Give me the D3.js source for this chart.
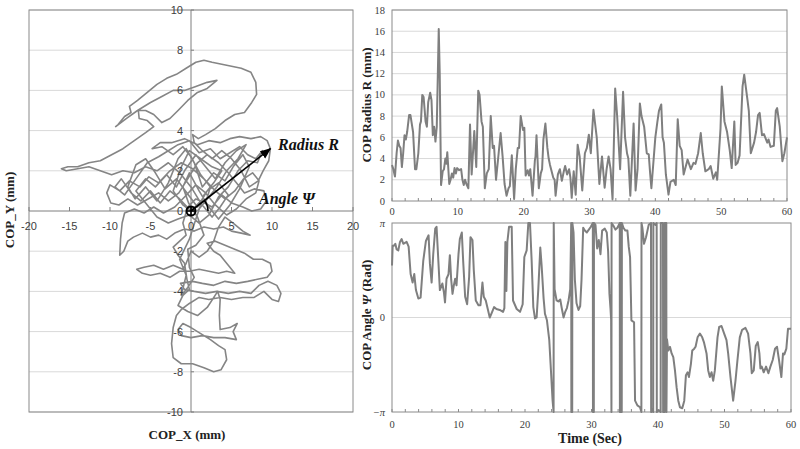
<!DOCTYPE html>
<meta charset="utf-8">
<style>
body { margin: 0; background: #fff; }
svg { display: block; }
.tick-sans { font-family: "Liberation Sans", Arial, sans-serif; font-size: 11px; fill: #404040; }
.tick-serif { font-family: "Liberation Serif", "Times New Roman", serif; font-size: 10.5px; fill: #404040; }
.title { font-family: "Liberation Serif", "Times New Roman", serif; font-weight: bold; font-size: 13px; fill: #222; }
.note { font-family: "Liberation Serif", "Times New Roman", serif; font-weight: bold; font-style: italic; font-size: 16px; fill: #111; }
</style>
<svg width="800" height="449"></svg>
<script src="https://d3js.org/d3.v7.min.js"></script>
<script>

// stabilogram path, COP_X / COP_Y in mm
var copPath = [
  [0,0],[1.2,0.5],[2.6,0.2],[3.8,0.8],[5.0,0.4],[6.4,0.2],[7.5,0.0],[8.6,0.1],[9.3,0.5],[9.0,1.0],[7.8,1.1],[6.6,0.9],
  [5.8,1.3],[4.6,1.9],[3.4,2.4],[2.0,2.8],[0.8,2.4],[-0.4,1.6],[-1.5,0.9],[-2.8,0.5],[-4.0,0.9],[-5.3,0.6],[-6.6,0.3],
  [-7.8,0.6],[-8.9,0.3],[-9.9,0.4],[-10.4,0.9],[-10.0,1.3],[-8.8,1.0],[-7.6,1.5],[-6.3,1.2],[-5.2,1.7],[-4.0,1.4],
  [-2.6,2.0],[-1.2,2.4],[0.2,2.1],[1.6,1.6],[3.0,1.0],[4.2,0.6],[5.4,1.0],[6.5,1.6],[7.6,1.9],[8.4,1.5],[8.0,0.9],
  [6.8,0.6],[5.6,0.1],[4.4,-0.2],[3.0,0.3],[1.8,0.9],[0.6,1.3],[-0.8,0.7],[-2.0,0.2],[-3.4,-0.1],[-4.6,0.2],[-5.8,-0.1],
  [-7.0,0.1],[-8.2,-0.1],
  [-8.5,-0.6],[-8.7,-1.4],[-8.8,-2.2],[-8.3,-2.0],[-7.8,-1.5],[-7.1,-1.3],[-6.0,-1.1],[-5.0,-1.3],[-4.0,-1.2],[-3.0,-1.4],
  [-2.0,-1.1],[-0.8,-0.9],[0.4,-1.0],[1.6,-0.8],[2.8,-0.9],[4.0,-0.8],[5.0,-1.0],[6.2,-1.1],[7.3,-1.2],[6.4,-1.0],
  [5.2,-0.6],[4.2,-0.3],[3.4,-0.8],[2.8,-1.5],[2.0,-2.0],[1.0,-2.3],[0.0,-2.0],[-0.6,-2.6],[-1.0,-2.9],
  [-2.2,-2.7],[-3.4,-2.9],[-4.6,-2.7],[-5.8,-2.8],[-6.7,-2.9],[-6.0,-3.1],[-5.0,-3.2],[-3.8,-3.1],[-2.6,-3.3],[-1.4,-3.0],
  [-0.2,-3.0],[1.0,-2.9],[2.2,-3.0],[3.4,-3.1],[4.4,-3.0],[5.4,-3.1],[4.6,-2.7],[3.6,-2.2],[2.8,-2.0],[2.0,-1.6],
  [3.0,-1.5],[4.2,-1.7],[5.4,-1.9],[6.6,-2.1],[7.7,-2.4],[8.8,-2.4],[9.8,-2.6],[10.0,-3.0],[9.4,-3.3],[8.2,-3.4],
  [7.0,-3.5],[5.6,-3.6],[4.2,-3.5],[2.8,-3.7],[1.4,-3.6],[0.2,-3.5],[-1.3,-3.6],[-0.8,-3.9],[0.4,-4.0],[1.8,-4.1],
  [3.2,-4.0],[4.6,-4.1],[6.0,-4.0],[7.4,-4.1],[8.4,-3.7],[9.5,-3.5],[10.6,-3.7],[11.1,-4.1],[10.8,-4.5],[10.0,-4.4],
  [9.0,-4.0],[7.8,-4.3],[6.4,-4.3],[5.0,-4.4],[3.6,-4.3],[2.2,-4.4],[1.0,-4.3],
  [-0.2,-4.6],[-1.2,-4.9],[-1.8,-5.2],[-2.2,-5.8],[-2.4,-6.6],[-2.2,-7.3],[-1.2,-7.6],[0.2,-7.6],[1.6,-7.8],[2.8,-8.0],
  [3.7,-7.9],[4.4,-7.4],[4.2,-6.9],[3.4,-6.7],[2.4,-6.4],[1.2,-6.1],[0.0,-5.8],[-1.0,-5.6],[-1.6,-5.9],[-1.2,-6.2],
  [0.0,-6.3],[1.4,-6.2],[2.8,-6.3],[4.2,-6.3],[5.6,-6.4],[5.2,-6.0],[5.7,-5.6],[4.8,-5.8],[3.6,-5.9],[3.5,-5.2],
  [3.6,-4.4],[3.3,-4.0],[2.0,-4.8],[0.8,-5.2],[-0.4,-5.0],[-1.6,-4.7],[-1.0,-4.2],[-0.2,-3.9],[-0.5,-3.4],
  [-0.8,-2.6],[-1.6,-2.2],[-2.2,-1.8],[-1.4,-1.5],[-0.6,-1.2],[-1.0,-0.6],[-0.4,0.2],[0.6,0.6],[1.8,0.4],[2.4,1.2],
  [1.2,1.8],[0.0,2.7],[-1.0,3.2],[-2.2,2.8],[-3.6,3.2],[-4.8,3.1],[-3.8,3.4],[-2.4,3.4],[-0.8,3.6],[0.8,3.3],
  [2.2,3.5],[3.6,3.4],[4.8,3.6],[6.0,3.7],[7.4,3.6],[8.6,3.7],[9.4,3.5],[9.8,3.1],[9.6,2.5],[8.9,2.0],[8.3,1.5],
  [7.2,1.2],[6.2,2.0],[5.0,2.6],[3.8,3.0],[2.6,2.6],[1.4,3.0],[0.4,3.4],[0.2,3.8],
  [0.9,3.6],[1.8,3.8],[3.0,4.1],[4.2,4.5],[5.4,4.8],[6.6,4.9],[7.5,5.4],[8.1,5.8],[8.0,6.4],[7.4,6.9],[6.2,7.1],
  [5.0,7.2],[3.8,7.3],[2.6,7.4],[1.6,7.5],[0.6,7.4],[-0.6,7.1],[-1.8,6.8],[-3.0,6.6],[-4.2,6.3],[-5.4,5.9],[-6.6,5.5],
  [-7.6,5.2],[-7.4,4.9],[-8.2,4.7],[-9.0,4.3],[-9.3,4.2],[-8.0,4.6],[-6.6,5.0],[-5.0,5.4],[-3.6,5.7],[-2.2,6.0],
  [-0.8,6.0],[0.6,6.2],[2.0,6.4],[3.2,6.5],[2.0,6.1],[0.8,5.9],[-0.4,5.5],[-1.6,5.0],[-2.6,4.6],[-3.6,4.4],[-4.6,4.8],
  [-5.6,5.0],[-6.5,5.0],[-6.4,4.6],[-5.4,4.5],[-4.6,4.2],[-5.6,3.9],[-7.0,3.5],[-8.4,3.1],[-9.8,2.8],[-11.2,2.5],
  [-12.6,2.4],[-14.0,2.2],[-15.2,2.2],[-16.0,2.1],[-15.4,2.0],[-14.0,2.1],[-12.6,2.2],[-11.2,2.0],[-9.8,1.8],
  [-8.4,2.0],[-7.0,1.9],[-5.6,2.2],[-4.2,2.0],[-2.8,2.4],[-1.4,1.9],[0.0,1.2],[1.2,0.4],[2.6,-0.3],[3.6,0.2],
  [4.6,0.8],[3.4,1.4],[2.0,1.0],[0.8,0.2],
  [-0.5,0.9],[-1.8,1.6],[-3.2,1.1],[-4.4,1.9],[-5.6,2.6],[-6.8,2.3],[-7.8,1.2],[-6.9,0.6],[-5.6,1.2],[-4.2,0.5],
  [-2.8,1.4],[-1.6,2.6],[-0.6,3.1],[0.4,2.4],[1.4,1.2],[2.8,1.9],[4.2,1.5],[5.2,2.2],[6.4,2.8],[7.2,2.2],[6.0,1.1],
  [4.8,0.3],[3.4,-0.4],[2.2,0.2],[1.0,1.0],[-0.2,1.9],[-1.0,1.2],[-0.3,0.4],[0.8,-0.3],[1.6,-1.2],[0.6,-1.7],
  [-0.4,-1.9],[-0.2,-2.8],[0.4,-3.3],[-0.4,-3.8],[-1.2,-4.2],[-0.6,-3.2],[-1.4,-2.4],[-0.2,-1.4],[0.6,-0.4],
  [1.6,0.8],[2.8,1.4],[3.8,2.0],[2.6,2.2],[1.2,2.6],[-0.2,3.0],[-1.2,2.2],[-2.2,1.0],[-1.0,0.3],[0,0],
  [-1.4,0.6],[-2.6,1.0],[-3.8,0.4],[-5.0,1.0],[-6.2,0.5],[-7.4,0.9],[-8.6,1.6],[-9.4,1.2],[-8.2,0.8],[-6.8,1.6],
  [-5.4,2.4],[-4.0,2.7],[-2.8,3.0],[-1.6,3.3],[-0.2,3.5],[1.0,2.9],[2.4,3.1],[3.6,2.6],[4.8,2.9],[6.0,3.2],[7.0,2.8],
  [8.0,2.6],[8.8,3.0],[8.2,2.4],[7.0,2.5],[5.8,2.0],[4.6,1.2],[3.4,0.7],[2.2,-0.2],[1.0,-0.6],[-0.2,-0.2],
  [-1.6,-0.4],[-2.8,-0.6],[-4.2,-0.3],[-5.6,0.4],[-6.8,1.0],[-5.6,1.6],[-4.4,1.2],[-3.0,1.8],[-1.8,1.2],[-0.8,2.0],
  [0.6,2.8],[1.8,2.2],[3.0,1.6],[4.2,2.4],[5.6,3.0],[6.8,3.3],[5.8,2.6],[4.4,2.0],[3.2,1.2],[2.0,0.6],[0.8,0.0]
];

// radius R (mm) against time (s)
var radiusSeries = [
  [0,3.4],[0.2,3.0],[0.45,2.3],[0.7,4.5],[0.9,5.7],[1.1,5.2],[1.3,5.0],[1.5,3.2],[1.7,4.5],[1.9,6.2],[2.1,5.8],[2.3,6.5],
  [2.6,8.1],[2.8,8.1],[3.2,6.5],[3.5,3.0],[3.7,3.0],[4.0,4.5],[4.25,7.2],[4.4,7.5],[4.6,10.0],[4.8,9.8],[5.1,7.5],
  [5.3,7.0],[5.5,9.3],[5.8,10.2],[6.0,9.5],[6.2,6.2],[6.4,7.0],[6.6,5.6],[6.8,7.0],[7.1,16.2],[7.25,12],[7.45,1.5],
  [7.7,2.8],[7.9,3.0],[8.1,4.0],[8.25,3.5],[8.4,4.6],[8.7,1.6],[8.9,2.0],[9.1,2.6],[9.3,2.2],[9.5,3.1],[9.7,2.6],
  [9.9,3.1],[10.2,2.9],[10.5,3.0],[10.7,2.0],[10.9,1.5],[11.1,2.0],[11.3,1.6],[11.6,1.2],[11.85,7.2],[12.1,2.5],
  [12.5,6.6],[12.8,3.2],[13.1,10.4],[13.3,10.0],[13.6,7.5],[13.8,7.0],[14.1,1.2],[14.4,2.6],[14.7,3.0],[15.0,8.0],
  [15.3,5.0],[15.5,5.2],[15.8,2.0],[16.2,4.5],[16.5,6.4],[16.8,4.2],[17.1,1.6],[17.4,0.5],[17.7,1.2],[17.9,1.4],
  [18.2,4.3],[18.55,0.2],[18.8,3.0],[19.1,5.0],[19.3,5.0],[19.55,8.0],[19.9,6.7],[20.1,6.9],[20.3,2.4],[20.6,2.9],
  [20.8,2.4],[21.0,3.0],[21.35,0.5],[21.7,3.8],[21.8,4.2],[21.95,6.2],[22.3,1.2],[22.6,2.6],[22.8,3.0],[23.0,5.8],
  [23.3,7.3],[23.6,5.0],[23.8,4.0],[24.0,3.4],[24.5,2.2],[24.7,2.0],[24.85,0.5],[25.2,2.5],[25.5,3.0],[25.8,1.9],
  [26.1,2.8],[26.3,3.3],[26.6,2.5],[26.9,3.0],[27.1,2.2],[27.3,0.3],[27.6,2.8],[27.9,0.6],[28.2,5.3],[28.5,4.2],
  [28.9,1.0],[29.3,4.5],[29.6,5.0],[29.9,6.25],[30.2,4.5],[30.6,8.6],[31.1,6.0],[31.5,1.6],[31.9,4.2],[32.3,1.25],
  [32.6,3.0],[32.9,4.2],[33.2,3.0],[33.5,0.15],[33.9,10.6],[34.2,8.0],[34.65,3.0],[35.1,10.3],[35.4,6.0],[35.7,4.5],
  [35.9,4.0],[36.2,0.5],[36.7,7.3],[37.0,1.0],[37.3,3.0],[37.65,9.2],[37.9,8.0],[38.3,7.0],[38.7,4.5],[39.0,4.4],
  [39.2,2.7],[39.4,1.2],[40.0,6.0],[40.3,7.4],[40.55,8.5],[40.9,9.1],[41.1,6.0],[41.3,5.5],[41.6,2.5],[42.0,0.6],
  [42.3,1.8],[42.8,2.0],[43.1,1.5],[43.4,7.7],[43.7,5.2],[44.0,4.8],[44.3,2.5],[44.6,3.2],[44.9,3.9],[45.4,3.0],
  [45.8,3.6],[46.1,3.5],[46.5,4.5],[46.9,6.4],[47.2,4.5],[47.6,2.8],[48.1,3.0],[48.4,3.3],[48.8,2.1],[49.2,2.7],
  [49.4,2.0],[49.9,6.8],[50.1,10.8],[50.5,7.5],[50.9,6.5],[51.3,4.8],[51.6,3.1],[52.0,7.5],[52.2,3.4],[52.5,3.6],
  [52.8,4.3],[53.25,10.8],[53.5,11.9],[54.0,9.5],[54.2,8.5],[54.5,4.5],[55.0,5.5],[55.3,6.5],[55.6,8.1],[55.85,8.3],
  [56.2,6.2],[56.5,6.3],[57.0,5.5],[57.2,5.8],[57.5,5.1],[58.0,5.2],[58.3,8.5],[58.5,8.75],[58.9,7.0],[59.3,3.75],
  [59.6,4.5],[60,6.0]
];

// angle psi against time, in units of pi
var angleSeries = [
  [0,0.55],[0.1,0.76],[0.3,0.76],[0.5,0.78],[0.7,0.72],[0.95,0.71],[1.2,0.8],[1.45,0.83],[1.7,0.78],[2.2,0.8],
  [2.5,0.75],[2.8,0.46],[3.1,0.37],[3.35,0.46],[3.6,0.29],[3.96,0.2],[4.3,0.21],[4.7,0.6],[5.1,0.81],[5.5,0.87],
  [5.7,0.57],[5.96,0.37],[6.2,0.67],[6.5,0.94],[6.7,0.96],[6.97,0.6],[7.2,0.29],[7.57,0.36],[7.8,0.27],[7.97,0.16],
  [8.2,0.41],[8.5,0.46],[8.7,0.66],[8.9,0.4],[9.1,0.25],[9.3,0.34],[9.5,0.41],[9.7,0.34],[10.0,0.67],[10.2,0.83],
  [10.5,0.9],[10.7,0.6],[11.0,0.22],[11.3,0.14],[11.6,0.43],[11.8,0.85],[12.1,0.82],[12.3,0.5],[12.6,0.18],
  [13.0,0.13],[13.3,0.13],[13.6,0.37],[13.8,0.22],[14.1,0.18],[14.4,0.09],[14.7,0.0],[15.0,0.05],[15.35,0.11],
  [15.7,0.09],[16.2,0.08],[16.7,0.06],[16.9,0.1],[17.05,0.8],[17.2,0.28],[17.35,0.8],[17.6,0.96],[18.0,0.96],
  [18.2,0.18],[18.75,0.09],[19.25,0.06],[19.65,0.14],[19.9,0.64],[20.25,0.71],[20.5,1.0],[20.75,1.0],[21.0,0.6],
  [21.25,0.11],[21.5,-0.01],[21.75,0.0],[22.0,0.3],[22.3,0.74],[22.5,0.55],[22.8,0.2],[23.0,0.04],[23.3,-0.03],
  [23.65,-0.24],[23.9,-0.56],[24.15,-0.88],[24.3,-1.0],[24.32,1.0],[24.45,0.3],[24.75,0.18],[25.0,0.17],[25.3,0.19],
  [25.55,0.09],[25.8,0.0],[26.05,0.06],[26.3,0.1],[26.55,0.18],[26.8,0.3],[26.95,1.0],[26.97,-1.0],[27.1,-1.0],
  [27.12,1.0],[27.3,0.9],[27.5,0.4],[27.75,0.15],[28.05,0.08],[28.3,0.12],[28.5,0.4],[28.75,0.95],[29.0,0.92],
  [29.3,0.9],[29.6,0.93],[29.9,0.96],[30.2,1.0],[30.22,-1.0],[30.35,-1.0],[30.37,1.0],[30.6,0.98],[30.85,0.73],
  [31.1,0.82],[31.35,0.67],[31.6,0.92],[32.0,0.94],[32.3,0.9],[32.5,0.7],[32.7,0.25],[32.85,0.1],[32.95,-0.02],
  [33.0,-1.0],[33.02,1.0],[33.3,0.97],[33.6,0.93],[33.9,0.95],[34.25,1.0],[34.27,-1.0],[34.35,-1.0],[34.37,1.0],
  [34.5,1.0],[34.52,-1.0],[34.55,-1.0],[34.57,1.0],[34.8,0.95],[35.1,0.92],[35.4,0.92],[35.6,0.75],[35.8,0.64],
  [36.0,-0.03],[36.4,-0.05],[36.55,-0.88],[36.9,-0.93],[37.3,-0.95],[37.5,-1.0],[37.52,1.0],[37.65,0.95],
  [37.9,0.78],[38.2,0.85],[38.6,0.98],[38.95,1.0],[38.97,-1.0],[39.2,-0.97],[39.28,-1.0],[39.3,1.0],[39.6,0.98],
  [39.8,1.0],[39.82,-1.0],[40.1,-0.98],[40.4,-1.0],[40.42,1.0],[40.75,1.0],[40.77,-1.0],[41.0,-1.0],[41.02,1.0],
  [41.25,1.0],[41.27,-1.0],[41.35,-0.23],[41.55,-0.35],[41.8,-0.31],[42.05,-0.38],[42.3,-0.42],[42.55,-0.56],
  [42.8,-0.74],[43.05,-0.88],[43.3,-0.95],[43.65,-0.96],[43.95,-0.88],[44.2,-0.61],[44.45,-0.58],[44.65,-0.63],
  [44.95,-0.49],[45.15,-0.35],[45.45,-0.33],[45.65,-0.31],[45.95,-0.21],[46.3,-0.17],[46.65,-0.21],[46.9,-0.26],
  [47.3,-0.38],[47.55,-0.56],[47.8,-0.63],[48.05,-0.58],[48.3,-0.67],[48.55,-0.56],[48.95,-0.21],[49.2,-0.1],
  [49.55,-0.09],[49.95,-0.17],[50.3,-0.24],[50.55,-0.38],[50.9,-0.63],[51.3,-0.88],[51.65,-0.67],[51.95,-0.45],
  [52.3,-0.21],[52.65,-0.13],[53.15,-0.11],[53.55,-0.17],[53.9,-0.38],[54.1,-0.59],[54.4,-0.56],[54.7,-0.3],
  [55.0,-0.26],[55.25,-0.38],[55.4,-0.54],[55.6,-0.52],[55.9,-0.58],[56.25,-0.52],[56.6,-0.59],[56.9,-0.52],
  [57.25,-0.45],[57.6,-0.33],[57.9,-0.31],[58.2,-0.45],[58.55,-0.63],[58.8,-0.38],[59.0,-0.39],[59.3,-0.33],
  [59.55,-0.12],[59.85,-0.12],[60,-0.12]
];

var copTicksX = [-20,-15,-10,-5,0,5,10,15,20];
var copTicksY = [-10,-8,-6,-4,-2,0,2,4,6,8,10];
var radiusTicks = [0,2,4,6,8,10,12,14,16,18];
var timeLabels = [0,10,20,30,40,50,60];
var timeMinor = [0,2,4,6,8,10,12,14,16,18,20,22,24,26,28,30,32,34,36,38,40,42,44,46,48,50,52,54,56,58,60];
var angleTicks = [-1,0,1];
var radiusTip = [9.8,3.1];

var svg = d3.select("svg");
var lineGray = "#7f7f7f", gridGray = "#d9d9d9", boxGray = "#8a8a8a";

// ---------- left: COP_X vs COP_Y ----------
var x = d3.scaleLinear().domain([-20,20]).range([29,353]);
var y = d3.scaleLinear().domain([-10,10]).range([412,10]);

var leftG = svg.append("g");
leftG.selectAll(".grid").data(copTicksY.filter(function(d){ return d !== 0; }))
  .enter().append("line")
  .attr("x1",29).attr("x2",353)
  .attr("y1",function(d){ return y(d); }).attr("y2",function(d){ return y(d); })
  .attr("stroke",gridGray);

leftG.append("rect").attr("x",29).attr("y",10).attr("width",324).attr("height",402)
  .attr("fill","none").attr("stroke",boxGray);

leftG.append("line").attr("x1",29).attr("x2",353).attr("y1",y(0)).attr("y2",y(0)).attr("stroke",lineGray);
leftG.append("line").attr("x1",x(0)).attr("x2",x(0)).attr("y1",10).attr("y2",412).attr("stroke",lineGray);

leftG.selectAll(".xt").data(copTicksX).enter().append("line")
  .attr("x1",function(d){ return x(d); }).attr("x2",function(d){ return x(d); })
  .attr("y1",y(0)).attr("y2",y(0)-4).attr("stroke",lineGray);
leftG.selectAll(".yt").data(copTicksY).enter().append("line")
  .attr("x1",x(0)).attr("x2",x(0)+3)
  .attr("y1",function(d){ return y(d); }).attr("y2",function(d){ return y(d); })
  .attr("stroke",lineGray);

leftG.append("path").datum(copPath)
  .attr("fill","none").attr("stroke","#858585").attr("stroke-width",1.6).attr("stroke-linejoin","round")
  .attr("d",d3.line().x(function(d){ return x(d[0]); }).y(function(d){ return y(d[1]); }));

leftG.selectAll(".xl").data(copTicksX).enter().append("text")
  .attr("class","tick-sans").attr("text-anchor","middle")
  .attr("x",function(d){ return x(d); }).attr("y",y(0)+19)
  .text(function(d){ return d; });
leftG.selectAll(".yl").data(copTicksY).enter().append("text")
  .attr("class","tick-sans").attr("text-anchor","end")
  .attr("x",x(0)-8).attr("y",function(d){ return y(d)+4; })
  .text(function(d){ return d; });

// radius arrow + angle arc
svg.append("defs").append("marker").attr("id","ah")
  .attr("viewBox","0 0 10 10").attr("refX",9).attr("refY",5)
  .attr("markerWidth",7).attr("markerHeight",7).attr("orient","auto")
  .append("path").attr("d","M0,1L10,5L0,9z").attr("fill","#000");
leftG.append("line").attr("x1",x(0)).attr("y1",y(0))
  .attr("x2",x(radiusTip[0])).attr("y2",y(radiusTip[1]))
  .attr("stroke","#000").attr("stroke-width",1.6).attr("marker-end","url(#ah)");
var ang = Math.atan2(y(0)-y(radiusTip[1]), x(radiusTip[0])-x(0));
leftG.append("path")
  .attr("transform","translate("+x(0)+","+y(0)+")")
  .attr("d",d3.arc().innerRadius(17).outerRadius(17).startAngle(Math.PI/2-ang).endAngle(Math.PI/2))
  .attr("fill","none").attr("stroke","#000").attr("stroke-width",1.6);
leftG.append("circle").attr("cx",x(0)).attr("cy",y(0)).attr("r",4.5)
  .attr("fill","none").attr("stroke","#000").attr("stroke-width",2);
leftG.append("path").attr("d","M"+(x(0)-4.5)+","+y(0)+"H"+(x(0)+4.5)+"M"+x(0)+","+(y(0)-4.5)+"V"+(y(0)+4.5))
  .attr("stroke","#000").attr("stroke-width",1.6);

leftG.append("text").attr("class","note").attr("x",278).attr("y",150).text("Radius R");
leftG.append("text").attr("class","note").attr("x",259).attr("y",204).text("Angle Ψ");

leftG.append("text").attr("class","title").attr("text-anchor","middle")
  .attr("transform","translate(14,210) rotate(-90)").text("COP_Y (mm)");
leftG.append("text").attr("class","title").attr("text-anchor","middle")
  .attr("x",187).attr("y",439).text("COP_X (mm)");

// ---------- top right: radius vs time ----------
var tx = d3.scaleLinear().domain([0,60]).range([392,787]);
var ry = d3.scaleLinear().domain([0,18]).range([201,10]);
var topG = svg.append("g");
topG.selectAll(".grid").data(radiusTicks.slice(1)).enter().append("line")
  .attr("x1",392).attr("x2",787)
  .attr("y1",function(d){ return ry(d); }).attr("y2",function(d){ return ry(d); })
  .attr("stroke",gridGray);
topG.append("rect").attr("x",392).attr("y",10).attr("width",395).attr("height",191)
  .attr("fill","none").attr("stroke",boxGray);
topG.selectAll(".mt").data(timeMinor).enter().append("line")
  .attr("x1",function(d){ return tx(d); }).attr("x2",function(d){ return tx(d); })
  .attr("y1",201).attr("y2",198).attr("stroke",boxGray);
topG.append("path").datum(radiusSeries)
  .attr("fill","none").attr("stroke",lineGray).attr("stroke-width",2).attr("stroke-linejoin","round")
  .attr("d",d3.line().x(function(d){ return tx(d[0]); }).y(function(d){ return ry(d[1]); }));
topG.selectAll(".yl").data(radiusTicks).enter().append("text")
  .attr("class","tick-serif").attr("text-anchor","end")
  .attr("x",385).attr("y",function(d){ return ry(d)+3.5; }).text(function(d){ return d; });
topG.selectAll(".xl").data(timeLabels).enter().append("text")
  .attr("class","tick-serif").attr("text-anchor","middle")
  .attr("x",function(d){ return tx(d); }).attr("y",215).text(function(d){ return d; });
topG.append("text").attr("class","title").attr("text-anchor","middle")
  .attr("transform","translate(371,105) rotate(-90)").text("COP Radius R (mm)");

// ---------- bottom right: angle vs time ----------
var bx = d3.scaleLinear().domain([0,60]).range([392,791]);
var ay = d3.scaleLinear().domain([-Math.PI,Math.PI]).range([412,223]);
var botG = svg.append("g");
botG.append("line").attr("x1",392).attr("x2",791).attr("y1",ay(0)).attr("y2",ay(0)).attr("stroke",gridGray);
botG.append("rect").attr("x",392).attr("y",223).attr("width",399).attr("height",189)
  .attr("fill","none").attr("stroke",boxGray);
botG.selectAll(".mt").data(timeMinor).enter().append("line")
  .attr("x1",function(d){ return bx(d); }).attr("x2",function(d){ return bx(d); })
  .attr("y1",412).attr("y2",409).attr("stroke",boxGray);
botG.append("path").datum(angleSeries)
  .attr("fill","none").attr("stroke",lineGray).attr("stroke-width",2).attr("stroke-linejoin","round")
  .attr("d",d3.line().x(function(d){ return bx(d[0]); }).y(function(d){ return ay(d[1]*Math.PI); }));
botG.selectAll(".yl").data(angleTicks).enter().append("text")
  .attr("class","tick-serif").attr("text-anchor","end").style("font-style",function(d){ return d === 0 ? "normal" : "italic"; })
  .attr("x",385).attr("y",function(d){ return ay(d*Math.PI)+3.5; })
  .text(function(d){ return d === 0 ? "0" : (d < 0 ? "−π" : "π"); });
botG.selectAll(".xl").data(timeLabels).enter().append("text")
  .attr("class","tick-serif").attr("text-anchor","middle")
  .attr("x",function(d){ return bx(d); }).attr("y",428).text(function(d){ return d; });
botG.append("text").attr("class","title").attr("text-anchor","middle").style("font-size","14px")
  .attr("x",590).attr("y",443).text("Time (Sec)");
var at = botG.append("text").attr("class","title").attr("text-anchor","middle")
  .attr("transform","translate(371,315) rotate(-90)");
at.append("tspan").text("COP Angle ");
at.append("tspan").style("font-style","italic").text("Ψ");
at.append("tspan").text(" (Rad)");

</script>
